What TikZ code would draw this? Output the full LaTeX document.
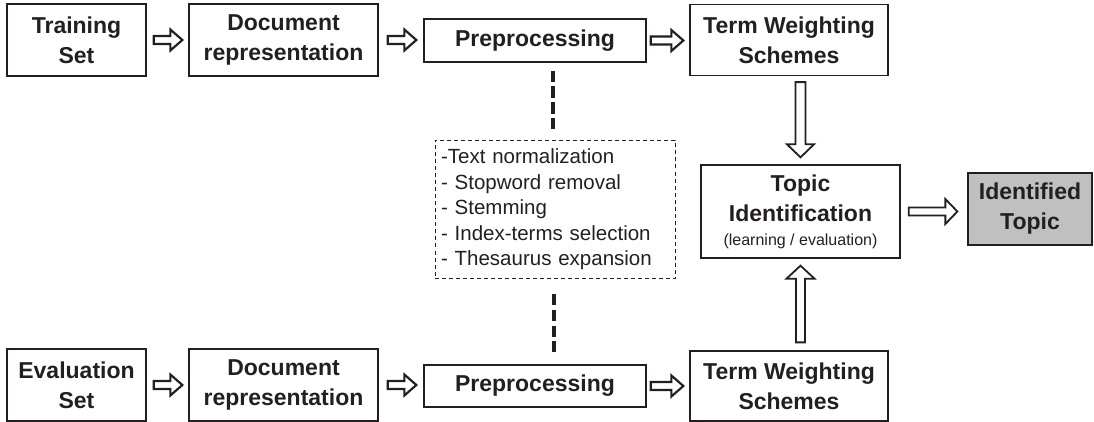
\documentclass[tikz,border=0pt]{standalone}
\usepackage{fontspec}
\setmainfont{Liberation Sans}
\usetikzlibrary{calc}
\definecolor{ink}{HTML}{231F20}
\definecolor{graybox}{HTML}{C0C0C0}
\tikzset{
  box/.style={draw=ink, line width=1.3pt, text=ink, align=center, inner sep=0pt,
    font=\fontsize{23}{30}\selectfont\bfseries},
  notebox/.style={draw=ink, line width=0.9pt, dash pattern=on 4pt off 3pt, text=ink,
    align=left, inner xsep=6pt, inner ysep=0pt,
    font=\fontsize{20.5}{25.5}\selectfont},
  blockarrow/.style={draw=ink, line width=2.2pt, fill=white, line join=miter, miter limit=10},
  vblockarrow/.style={draw=ink, line width=1.8pt, fill=white, line join=miter, miter limit=10},
  dashconn/.style={draw=ink, line width=4.5pt, dash pattern=on 11.5pt off 4.3pt},
}
% horizontal hollow arrow from node #2 (east) to node #3 (west)
\newcommand{\harrow}[8][blockarrow]{%
  \draw[#1] let \p1=($(#2.east)+(#7,0pt)$), \p2=($(#3.west)+(-#8,0pt)$) in
    (\x1,\y1+#4) -- (\x2-#6,\y1+#4) -- (\x2-#6,\y1+#5) -- (\x2,\y1)
    -- (\x2-#6,\y1-#5) -- (\x2-#6,\y1-#4) -- (\x1,\y1-#4) -- cycle;}
% vertical hollow arrows, x taken from the target node
\newcommand{\varrowdown}[2]{%
  \draw[vblockarrow] let \p1=($(#1.south)+(0pt,-6pt)$), \p2=($(#2.north)+(0pt,7pt)$) in
    (\x2-5pt,\y1) -- (\x2-5pt,\y2+13pt) -- (\x2-13.5pt,\y2+13pt) -- (\x2,\y2)
    -- (\x2+13.5pt,\y2+13pt) -- (\x2+5pt,\y2+13pt) -- (\x2+5pt,\y1) -- cycle;}
\newcommand{\varrowup}[2]{%
  \draw[vblockarrow] let \p1=($(#1.north)+(0pt,8pt)$), \p2=($(#2.south)+(0pt,-7pt)$) in
    (\x2-4.5pt,\y1) -- (\x2-4.5pt,\y2-13pt) -- (\x2-14pt,\y2-13pt) -- (\x2,\y2)
    -- (\x2+14pt,\y2-13pt) -- (\x2+4.5pt,\y2-13pt) -- (\x2+4.5pt,\y1) -- cycle;}
\begin{document}
\begin{tikzpicture}[x=1pt, y=-1pt]
  \useasboundingbox (0,0) rectangle (1094,422);
  % top row
  \node[box, minimum width=139pt, minimum height=72pt] (train) at (76.5,40) {Training\\Set};
  \node[box, minimum width=189pt, minimum height=72pt] (doc1) at (283.5,40) {Document\\representation};
  \node[box, minimum width=222pt, minimum height=43pt] (pre1) at (535,40.5) {Preprocessing};
  \node[box, minimum width=198pt, minimum height=71pt] (term1) at (789,40) {Term Weighting\\Schemes};
  % bottom row
  \node[box, minimum width=139pt, minimum height=72pt] (eval) at (76.5,385) {Evaluation\\Set};
  \node[box, minimum width=189pt, minimum height=72pt] (doc2) at (283.5,385) {Document\\representation};
  \node[box, minimum width=222pt, minimum height=42pt] (pre2) at (535,386) {Preprocessing};
  \node[box, minimum width=198pt, minimum height=70pt] (term2) at (789,386) {Term Weighting\\Schemes};
  % middle
  \node[notebox, text width=228pt, minimum height=138pt] (notes) at (555,209.5)
    {-Text normalization\\- Stopword removal\\- Stemming\\- Index-terms selection\\- Thesaurus expansion};
  \node[box, minimum width=199pt, minimum height=93pt] (topic) at (800.5,211.5)
    {Topic\\Identification\\[-6pt]{\fontsize{16}{20}\selectfont\mdseries (learning / evaluation)}};
  \node[box, fill=graybox, minimum width=124pt, minimum height=72pt] (ident) at (1030,209) {Identified\\Topic};
  % horizontal arrows
  \harrow{train}{doc1}{4pt}{10.5pt}{12pt}{7pt}{6pt}
  \harrow{doc1}{pre1}{4pt}{10.5pt}{12pt}{9pt}{7pt}
  \harrow{pre1}{term1}{4pt}{10.5pt}{12pt}{4pt}{6pt}
  \harrow{eval}{doc2}{4pt}{10.5pt}{12pt}{7pt}{6pt}
  \harrow{doc2}{pre2}{4pt}{10.5pt}{12pt}{9pt}{7pt}
  \harrow{pre2}{term2}{4pt}{10.5pt}{12pt}{4pt}{6pt}
  \harrow[vblockarrow]{topic}{ident}{4pt}{12.5pt}{12pt}{8pt}{10pt}
  % vertical arrows
  \varrowdown{term1}{topic}
  \varrowup{term2}{topic}
  % dashed connectors
  \draw[dashconn] ($(pre1.south)+(18,8)$) -- ($(notes.north)+(-2,-11)$);
  \draw[dashconn] ($(notes.south)+(-1,15)$) -- ($(pre2.north)+(19,-12)$);
\end{tikzpicture}
\end{document}
